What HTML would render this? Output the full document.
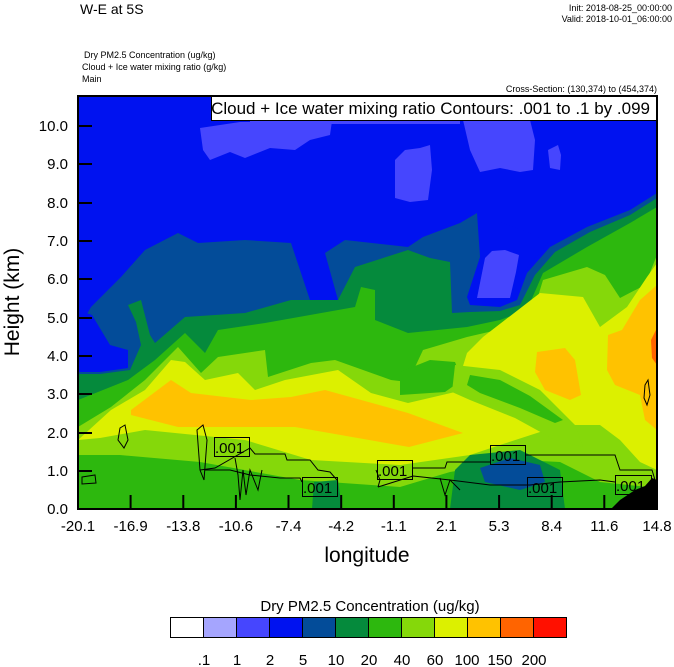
<!DOCTYPE html>
<html><head><meta charset="utf-8"><style>
html,body{margin:0;padding:0;background:#fff;}
svg{display:block;font-family:"Liberation Sans",Arial,sans-serif;}
</style></head><body>
<svg width="674" height="667" viewBox="0 0 674 667" xmlns="http://www.w3.org/2000/svg">
<defs><clipPath id="c"><rect x="78" y="96" width="579" height="413"/></clipPath></defs>
<text x="80" y="14" font-size="14">W-E at 5S</text>
<text x="672" y="11" font-size="9" text-anchor="end">Init: 2018-08-25_00:00:00</text>
<text x="672" y="22" font-size="9" text-anchor="end">Valid: 2018-10-01_06:00:00</text>
<text x="84" y="58" font-size="9">Dry PM2.5 Concentration   (ug/kg)</text>
<text x="82" y="70" font-size="9">Cloud + Ice water mixing ratio   (g/kg)</text>
<text x="82" y="82" font-size="9">Main</text>
<text x="657" y="92" font-size="9" text-anchor="end">Cross-Section: (130,374) to (454,374)</text>
<g clip-path="url(#c)">
<rect x="78" y="96" width="579" height="413" fill="#0012f0"/>
<g fill="#4646fe">
<path d="M200,128 L240,122 L332,121 L330,135 L310,140 L295,150 L270,148 L245,158 L230,152 L210,160 L203,150 Z"/>
<path d="M250,120 L460,120 L460,124 L250,124 Z"/>
<path d="M395,160 L405,150 L420,148 L430,145 L432,170 L428,200 L410,202 L395,198 Z"/>
<path d="M463,120 L530,120 L535,140 L533,170 L520,172 L500,168 L480,172 L470,150 Z"/>
<path d="M548,150 L558,145 L561,155 L560,170 L550,168 Z"/>
</g>
<path fill="#034c99" d="M78,330 L91,307 L121,277 L145,250 L178,233 L198,243 L245,240 L291,243 L300,270 L310,300 L338,300 L325,253 L345,240 L408,247 L423,237 L460,223 L477,213 L480,257 L467,297 L470,305 L500,307 L517,300 L527,273 L550,247 L587,227 L630,210 L657,193 L657,509 L78,509 Z"/>
<path fill="#0012f0" d="M78,310 L92,315 L110,345 L128,350 L128,368 L100,372 L78,372 Z"/>
<path fill="#0012f0" d="M482,222 L500,222 L530,233 L548,243 L525,270 L515,296 L500,302 L470,300 L482,257 Z"/>
<path fill="#4646fe" d="M485,258 L492,251 L505,250 L519,255 L516,272 L510,298 L477,298 Z"/>
<path fill="#058a3c" d="M78,393 L78,374 L100,374 L130,370 L141,345 L136,322 L128,305 L141,300 L150,335 L155,343 L185,317 L245,313 L291,300 L338,300 L355,267 L408,250 L430,258 L450,262 L452,313 L470,312 L500,311 L520,305 L535,275 L555,252 L590,232 L630,215 L657,198 L657,509 L78,509 Z"/>
<path fill="#2db80e" d="M78,400 L128,380 L155,360 L185,333 L205,353 L218,330 L265,323 L355,307 L361,287 L375,290 L375,320 L408,333 L467,327 L500,320 L527,310 L543,273 L587,247 L630,223 L657,207 L657,509 L78,509 Z"/>
<path fill="#85d80a" d="M78,427 L111,407 L145,380 L178,347 L201,373 L218,357 L265,350 L268,377 L311,363 L335,360 L391,380 L408,382 L423,350 L467,337 L510,327 L533,313 L543,280 L587,267 L605,275 L620,298 L645,285 L657,255 L657,488 L600,482 L560,462 L520,460 L450,472 L400,487 L300,480 L200,462 L120,455 L78,455 Z"/>
<path fill="#dcf000" d="M78,440 L111,410 L145,390 L171,360 L185,362 L205,380 L238,373 L255,390 L285,380 L338,370 L371,393 L408,403 L455,392 L467,353 L483,337 L540,293 L583,297 L600,327 L627,307 L647,277 L657,263 L657,470 L640,462 L620,440 L600,425 L570,425 L540,432 L500,445 L470,455 L400,465 L311,460 L245,440 L145,430 L100,438 Z"/>
<path fill="#2db80e" d="M400,372 L430,360 L455,362 L462,380 L445,392 L400,395 Z"/>
<path fill="#85d80a" d="M455,365 L500,370 L540,390 L575,425 L583,447 L555,440 L515,418 L470,400 L452,392 Z"/>
<path fill="#2db80e" d="M470,375 L500,380 L530,396 L563,420 L555,423 L520,408 L480,393 L467,385 Z"/>
<path fill="#ffc200" d="M131,410 L171,380 L191,393 L251,400 L291,397 L325,390 L408,413 L463,433 L409,447 L295,427 L178,427 L131,415 Z"/>
<path fill="#ffc200" d="M537,352 L565,348 L575,360 L581,395 L570,400 L545,390 L535,372 Z"/>
<path fill="#ffc200" d="M657,285 L640,300 L622,330 L608,335 L607,370 L615,385 L640,395 L645,420 L657,430 Z"/>
<path fill="#ff6400" d="M657,328 L651,340 L652,358 L657,365 Z"/>
<path fill="#058a3c" d="M450,509 L455,470 L470,455 L520,450 L560,470 L565,509 Z"/>
<path fill="#034c99" d="M480,468 L510,458 L540,465 L545,482 L520,490 L485,482 Z"/>
<path fill="#058a3c" d="M312,509 L314,482 L338,480 L342,509 Z"/>
<g fill="none" stroke="#000" stroke-width="1">
<path d="M200,470 L215,468 L250,448 L255,454 L285,454 L287,460 L310,460 L318,470 L330,472 L337,480"/>
<path d="M197,430 L203,425 L207,440 L204,480 L200,470 Z"/>
<path d="M205,470 L230,470 L250,475 L280,478 L300,478 L302,482"/>
<path d="M413,468 L445,468 L447,462 L490,462"/>
<path d="M525,455 L615,455 L620,470 L652,470 L655,480"/>
<path d="M378,487 L413,476 L450,480 L490,485 L530,485 L560,482 L600,480 L615,482"/>
<path d="M378,487 L380,480 L376,470"/>
<path d="M120,428 L125,425 L128,440 L124,448 L118,440 Z"/>
<path d="M82,477 L95,475 L96,483 L82,484 Z"/>
<path d="M645,385 L648,380 L650,395 L647,405 L644,398 Z"/>
<path d="M235,458 L238,475 L240,500 L243,470 L246,495 L250,470 L258,490 L262,470"/>
<path d="M440,478 L445,495 L450,480 L460,490"/>
</g>
<g fill="none" stroke="#000" stroke-width="1">
<rect x="214.5" y="437.5" width="35" height="19"/>
<rect x="302.5" y="477.5" width="35" height="19"/>
<rect x="377.5" y="460.5" width="35" height="19"/>
<rect x="490.5" y="445.5" width="35" height="19"/>
<rect x="527.5" y="477.5" width="35" height="19"/>
<rect x="615.5" y="475.5" width="36" height="19"/>
</g>
<g font-size="15" fill="#000">
<text x="215" y="453">.001</text>
<text x="303" y="493">.001</text>
<text x="378" y="476">.001</text>
<text x="491" y="461">.001</text>
<text x="528" y="493">.001</text>
<text x="616" y="491">.001</text>
</g>
<path fill="#000" d="M611,509 L620,500 L635,490 L645,486 L652,478 L657,480 L657,509 Z"/>
</g>
<rect x="211.5" y="96.5" width="445" height="24" fill="#fff" stroke="#000"/>
<text x="650" y="114" font-size="17" text-anchor="end">Cloud + Ice water mixing ratio Contours: .001 to .1 by .099</text>
<rect x="78" y="96" width="579" height="413" fill="none" stroke="#000" stroke-width="2"/>
<g stroke="#000" stroke-width="2">
<path d="M78,509h14M78,471h14M78,433h14M78,394h14M78,356h14M78,318h14M78,279h14M78,241h14M78,203h14M78,164h14M78,126h14"/>
<path d="M78,509v-14M130.6,509v-14M183.3,509v-14M235.9,509v-14M288.5,509v-14M341.2,509v-14M393.8,509v-14M446.4,509v-14M499.1,509v-14M551.7,509v-14M604.3,509v-14M657,509v-14"/>
</g>
<g font-size="15" text-anchor="end">
<text x="68" y="514">0.0</text><text x="68" y="476">1.0</text><text x="68" y="438">2.0</text>
<text x="68" y="399">3.0</text><text x="68" y="361">4.0</text><text x="68" y="323">5.0</text>
<text x="68" y="284">6.0</text><text x="68" y="246">7.0</text><text x="68" y="208">8.0</text>
<text x="68" y="169">9.0</text><text x="68" y="131">10.0</text>
</g>
<g font-size="15" text-anchor="middle">
<text x="78" y="531">-20.1</text><text x="130.6" y="531">-16.9</text><text x="183.3" y="531">-13.8</text>
<text x="235.9" y="531">-10.6</text><text x="288.5" y="531">-7.4</text><text x="341.2" y="531">-4.2</text>
<text x="393.8" y="531">-1.1</text><text x="446.4" y="531">2.1</text><text x="499.1" y="531">5.3</text>
<text x="551.7" y="531">8.4</text><text x="604.3" y="531">11.6</text><text x="657" y="531">14.8</text>
</g>
<text x="367" y="562" font-size="21" text-anchor="middle">longitude</text>
<text transform="translate(19,302) rotate(-90)" font-size="21" text-anchor="middle">Height (km)</text>
<text x="370" y="611" font-size="15" text-anchor="middle">Dry PM2.5 Concentration  (ug/kg)</text>
<g stroke="#000" stroke-width="1">
<rect x="170.5" y="617.5" width="33" height="20" fill="#ffffff"/>
<rect x="203.5" y="617.5" width="33" height="20" fill="#a5a5fe"/>
<rect x="236.5" y="617.5" width="33" height="20" fill="#4646fe"/>
<rect x="269.5" y="617.5" width="33" height="20" fill="#0012f0"/>
<rect x="302.5" y="617.5" width="33" height="20" fill="#034c99"/>
<rect x="335.5" y="617.5" width="33" height="20" fill="#058a3c"/>
<rect x="368.5" y="617.5" width="33" height="20" fill="#2db80e"/>
<rect x="401.5" y="617.5" width="33" height="20" fill="#85d80a"/>
<rect x="434.5" y="617.5" width="33" height="20" fill="#dcf000"/>
<rect x="467.5" y="617.5" width="33" height="20" fill="#ffc200"/>
<rect x="500.5" y="617.5" width="33" height="20" fill="#ff6400"/>
<rect x="533.5" y="617.5" width="33" height="20" fill="#ff1000"/>
</g>
<g font-size="15" text-anchor="middle">
<text x="204" y="665">.1</text><text x="237" y="665">1</text><text x="270" y="665">2</text>
<text x="303" y="665">5</text><text x="336" y="665">10</text><text x="369" y="665">20</text>
<text x="402" y="665">40</text><text x="435" y="665">60</text><text x="467" y="665">100</text>
<text x="500" y="665">150</text><text x="534" y="665">200</text>
</g>
</svg>
</body></html>
